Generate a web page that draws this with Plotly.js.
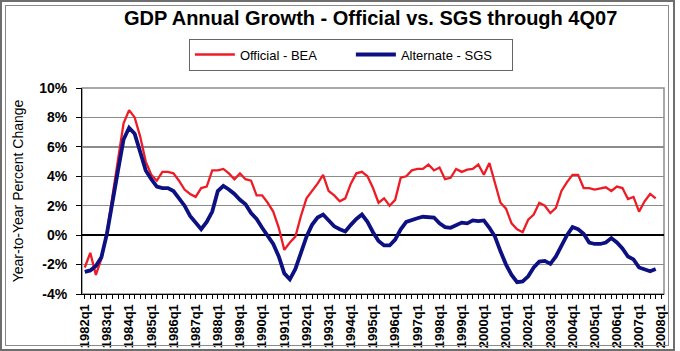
<!DOCTYPE html>
<html>
<head>
<meta charset="utf-8">
<script src="https://cdn.plot.ly/plotly-3.0.1.min.js"></script>
<style>
  html, body { margin: 0; padding: 0; background: #fff; }
  #wrap { position: relative; width: 680px; height: 351px; overflow: hidden; }
  #chart { position: absolute; left: 0; top: 0; width: 680px; height: 351px; }
  .frame { position: absolute; pointer-events: none; box-sizing: border-box; }
</style>
</head>
<body>
<div id="wrap">
  <div id="chart"></div>
  <div class="frame" style="left:0;top:0;width:675px;height:351px;border:2px solid #6e6e6e;"></div>
  <div class="frame" style="left:5px;top:5px;width:664px;height:341px;border:1px solid #8a8a8a;"></div>
</div>
<script>
// Years spanned by the category axis (quarters 1982q1 .. 2008q1)
const firstYear = 1982;
const lastYear = 2008;

// Official - BEA, year-to-year % change, 1982q1 .. 2007q4
const officialBEA = [
  -2.2, -1.2, -2.7, -1.6,   0.2, 2.6, 5.0, 7.6,   8.5, 8.0, 6.7, 5.0,
   4.1, 3.7, 4.3, 4.3,   4.2, 3.7, 3.1, 2.8,   2.6, 3.2, 3.3, 4.4,
   4.4, 4.5, 4.2, 3.8,   4.2, 3.8, 3.7, 2.7,   2.7, 2.2, 1.6, 0.5,
  -1.0, -0.5, -0.1, 1.3,  2.5, 3.0, 3.5, 4.1,   3.0, 2.7, 2.3, 2.5,
   3.5, 4.2, 4.3, 4.0,   3.2, 2.2, 2.5, 2.0,   2.4, 3.9, 4.0, 4.4,
   4.5, 4.5, 4.8, 4.4,   4.6, 3.8, 3.9, 4.5,   4.3, 4.45, 4.5, 4.8,
   4.1, 4.9, 3.5, 2.2,   1.8, 0.8, 0.4, 0.2,   1.05, 1.4, 2.2, 2.0,
   1.5, 1.85, 3.0, 3.6,  4.1, 4.1, 3.2, 3.2,   3.1, 3.2, 3.25, 3.0,
   3.3, 3.2, 2.45, 2.6,  1.6, 2.3, 2.8, 2.5
];

// Alternate - SGS, year-to-year % change, 1982q1 .. 2007q4
const alternateSGS = [
  -2.5, -2.4, -2.1, -1.5,  0.1, 2.4, 4.4, 6.5,   7.3, 6.9, 5.6, 4.4,
   3.8, 3.3, 3.2, 3.2,   3.0, 2.5, 2.0, 1.3,   0.8, 0.4, 0.9, 1.6,
   3.0, 3.35, 3.1, 2.8,  2.4, 2.1, 1.5, 1.1,   0.5, 0.0, -0.6, -1.45,
  -2.6, -3.0, -2.3, -1.2, -0.1, 0.7, 1.2, 1.4,  1.0, 0.6, 0.4, 0.25,
   0.7, 1.1, 1.4, 0.9,   0.2, -0.4, -0.7, -0.7, -0.3, 0.4, 0.9, 1.05,
   1.15, 1.25, 1.25, 1.2, 0.8, 0.55, 0.5, 0.65, 0.85, 0.8, 1.0, 0.95,
   1.0, 0.5, -0.1, -1.1, -2.0, -2.7, -3.2, -3.15, -2.8, -2.2, -1.8, -1.75,
  -1.95, -1.45, -0.7, 0.0, 0.55, 0.4, 0.1, -0.5, -0.6, -0.6, -0.5, -0.2,
  -0.5, -0.9, -1.45, -1.65, -2.2, -2.35, -2.45, -2.3
];

// Y tick values and labels
const yTickVals = [-4, -2, 0, 2, 4, 6, 8, 10];
const yTickText = ['-4%', '-2%', '0%', '2%', '4%', '6%', '8%', '10%'];

// Category labels
const quarters = [];
for (let y = firstYear; y <= lastYear; y++) {
  for (let q = 1; q <= 4; q++) {
    if (y === lastYear && q > 1) break;
    quarters.push(y + 'q' + q);
  }
}
const dataQuarters = quarters.slice(0, officialBEA.length);
const xTickText = quarters.map(function (c) { return c.endsWith('q1') ? c : ''; });

const FONT = 'Liberation Sans, Arial, sans-serif';

const traces = [
  {
    x: dataQuarters, y: officialBEA, type: 'scatter', mode: 'lines',
    name: 'Official - BEA',
    line: { color: '#ee1c25', width: 2.3 }
  },
  {
    x: dataQuarters, y: alternateSGS, type: 'scatter', mode: 'lines',
    name: 'Alternate - SGS',
    line: { color: '#0c1080', width: 3.8 }
  }
];

const layout = {
  width: 680, height: 351,
  margin: { l: 82, r: 16, t: 88, b: 57, pad: 0 },
  paper_bgcolor: '#ffffff', plot_bgcolor: '#ffffff',
  font: { family: FONT, color: '#000', size: 12 },
  showlegend: true,
  title: {
    text: '<b>GDP Annual Growth - Official vs. SGS through 4Q07</b>',
    font: { family: FONT, size: 20, color: '#000' },
    xref: 'container', x: 0.545, xanchor: 'center',
    yref: 'container', y: 0.948, yanchor: 'middle'
  },
  legend: {
    orientation: 'h',
    x: 0.462, xanchor: 'center',
    y: 1.24, yanchor: 'top',
    bordercolor: '#666', borderwidth: 1, bgcolor: '#fff',
    font: { family: FONT, size: 13, color: '#000' },
    itemwidth: 40,
    entrywidth: 106
  },
  xaxis: {
    type: 'category',
    categoryorder: 'array', categoryarray: quarters,
    range: [-0.5, quarters.length - 0.5],
    tickmode: 'array', tickvals: quarters, ticktext: xTickText,
    tickangle: -90,
    tickfont: { family: FONT, size: 13, color: '#000', weight: 'bold' },
    ticks: 'outside', ticklen: 4, tickwidth: 1, tickcolor: '#000',
    showline: true, linecolor: '#000', linewidth: 1,
    showgrid: false, zeroline: false, fixedrange: true
  },
  yaxis: {
    range: [-4, 10],
    tickmode: 'array', tickvals: yTickVals, ticktext: yTickText,
    tickfont: { family: FONT, size: 14, color: '#000', weight: 'bold' },
    ticks: 'outside', ticklen: 5, tickwidth: 1, tickcolor: '#000',
    ticklabelstandoff: 6,
    showline: true, linecolor: '#000', linewidth: 1,
    showgrid: true, gridcolor: '#8c8c8c', gridwidth: 1.5,
    zeroline: true, zerolinecolor: '#000', zerolinewidth: 2.5,
    title: {
      text: 'Year-to-Year Percent Change',
      font: { family: FONT, size: 14, color: '#000' },
      standoff: 12
    },
    fixedrange: true
  },
  shapes: [
    {
      type: 'rect', xref: 'paper', yref: 'paper',
      x0: 0, x1: 1, y0: 0, y1: 1,
      line: { color: '#8c8c8c', width: 1.5 }, layer: 'below'
    }
  ]
};

Plotly.newPlot('chart', traces, layout, { displayModeBar: false, staticPlot: true });
</script>
</body>
</html>
